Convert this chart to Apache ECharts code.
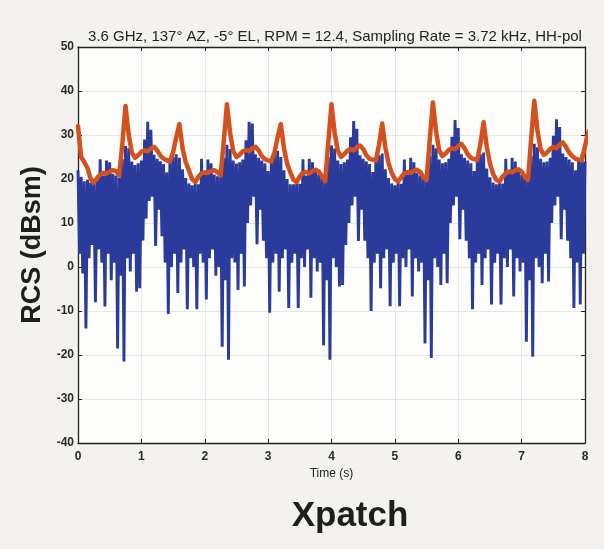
<!DOCTYPE html>
<html><head><meta charset="utf-8">
<script src="https://cdn.jsdelivr.net/npm/echarts@6/dist/echarts.min.js"></script>
<style>html,body{margin:0;padding:0;background:#f3f2ef;}#c{width:604px;height:549px;}</style>
</head><body><div id="c"></div>
<script>
// ---- data ----
const titleText = '3.6 GHz, 137\u00B0 AZ, -5\u00B0 EL, RPM = 12.4, Sampling Rate = 3.72 kHz, HH-pol';
const xTicks = [0,1,2,3,4,5,6,7,8];
const yTicks = [-40,-30,-20,-10,0,10,20,30,40,50];
const sampleStep = 0.05; // seconds between consecutive readings
// orange envelope (dBsm), one reading every 0.05 s from t = 0
const envelope = [
32.0,25.0,23.8,22.5,20.0,19.2,20.2,21.0,21.4,21.2,21.7,22.0,21.8,20.8,28.0,36.6,30.0,26.0,24.8,25.4,
26.2,26.5,26.3,26.9,27.3,26.5,25.3,24.6,24.3,24.0,26.0,29.5,32.5,27.0,23.8,22.0,20.0,19.3,20.5,21.3,
21.5,21.4,21.8,22.0,21.6,20.8,28.5,37.0,30.5,26.3,25.0,25.5,26.3,26.6,26.3,27.0,27.3,26.5,25.2,24.5,
24.2,24.0,26.0,29.5,32.5,27.0,23.5,21.5,19.8,19.3,20.6,21.4,21.6,21.3,21.8,22.1,21.7,20.6,19.5,28.5,
37.0,30.5,26.4,25.0,25.6,26.4,26.8,26.5,27.2,27.6,26.8,25.4,24.6,24.4,24.2,27.8,32.6,27.2,23.6,21.4,
20.0,19.4,20.4,21.3,21.6,21.4,21.9,22.1,21.6,20.4,19.8,28.8,37.4,30.8,26.5,25.2,25.8,26.6,27.0,26.8,
27.5,28.0,27.0,25.6,24.8,24.5,24.3,28.0,32.9,27.3,23.5,21.2,19.8,19.4,20.5,21.3,21.7,21.5,22.0,22.2,
21.7,20.5,19.8,29.0,37.8,31.0,26.8,25.5,26.0,26.8,27.3,27.0,27.8,28.3,27.3,26.0,25.2,24.6,24.4,24.2,
27.5,30.5,31.8,31.5,31.5
];
// blue signal: upper readings at t = k*0.05, lower readings at t = k*0.05 + 0.025
const rcsTop = [
22.0,20.5,19.5,19.8,19.2,19.0,19.6,24.5,20.8,24.2,23.8,21.2,20.8,20.3,24.5,27.5,27.0,24.0,23.2,23.6,
24.2,29.0,33.0,31.2,25.5,24.6,24.0,23.4,21.5,24.0,25.0,25.6,24.8,22.2,20.2,19.0,18.6,19.2,18.8,24.6,
21.0,24.4,23.6,21.0,20.6,20.8,24.8,27.8,26.8,24.2,23.5,23.8,24.4,28.8,33.0,32.6,25.6,24.8,24.2,23.6,
21.8,24.2,25.4,26.4,25.0,22.0,20.0,18.8,18.8,19.2,18.9,24.5,20.8,24.6,23.8,22.0,21.0,20.6,20.8,25.0,
27.6,26.9,24.2,23.4,23.8,24.4,29.5,33.2,31.4,25.4,24.6,24.0,23.4,21.6,24.2,25.4,25.8,22.2,20.2,19.0,
18.6,19.4,18.9,24.4,21.0,24.8,23.8,21.4,20.8,20.5,21.0,25.2,27.8,27.0,24.4,23.6,23.8,24.6,29.6,33.4,
31.6,25.6,24.8,24.2,23.6,21.8,24.4,25.6,26.0,22.4,20.4,19.2,18.8,19.4,19.0,24.6,21.2,24.8,24.0,21.6,
21.0,20.6,21.0,25.2,28.0,27.2,24.6,23.8,24.0,24.8,29.8,33.6,31.8,25.8,25.0,24.4,23.8,22.0,24.6,25.6,
24.0
];
const rcsBottom = [
3,-1.5,-14,2,5,-8,4,1,-9,3,-3,1,-18.5,-2,-21.5,2,-1,3,-5.6,-4.8,
6,11,15,16,4.8,13,7,1,-10.7,0,3,-5.9,1,4,-9.6,2,0,-9.6,3,1,
-7.4,2,4,-2,0,-18.1,-3,-21.1,2,1,-5.2,3,-4.4,10,14,16,5.2,13,6,2,
-10.4,1,3,-5.6,2,4,-9.3,1,3,-9.3,2,0,4,-7,2,-1,1,-17.8,-3,-21.1,
2,0,-4.4,-4.1,5,10,14,16,5.9,13,6,2,-10,1,3,-4.8,2,4,-8.9,1,
3,-8.9,2,0,4,-6.7,2,-1,1,-17.4,-3,-20.7,2,0,-4.1,3,-3.7,10,14,16,
6.3,13,6,2,-9.6,1,3,-4.1,2,4,-8.5,1,3,-8.5,2,0,4,-6.7,2,-1,
1,-17,-3,-20.4,2,0,-3.7,3,-3.3,10,14,16,6.3,13,6,2,-9.3,1,-8.5,3
];
// ---- build series data ----
const envData = envelope.map((v,k)=>[+(k*sampleStep).toFixed(3), v]);
const rcsData = [];
rcsTop.forEach((v,k)=>{
  rcsData.push([+(k*sampleStep).toFixed(3), v]);
  if (k < rcsBottom.length) rcsData.push([+(k*sampleStep+sampleStep/2).toFixed(3), rcsBottom[k]]);
});

const chart = echarts.init(document.getElementById('c'), null, {renderer:'canvas'});
const FF = 'Liberation Sans, Arial, sans-serif';
const lblFont = {fontFamily:FF, fontWeight:'bold', fontSize:12, color:'#2a2a2a'};
const axLine = {show:true, onZero:false, lineStyle:{color:'#222', width:1.3}};
chart.setOption({
  backgroundColor:'#f3f2ef',
  animation:false,
  title:[
    {text:titleText, left:330, top:24, textAlign:'center',
     textStyle:{fontFamily:FF, fontSize:15, fontWeight:'normal', color:'#222'}},
    {text:'Xpatch', left:345, top:494, textAlign:'center',
     textStyle:{fontFamily:FF, fontSize:35, fontWeight:'bold', color:'#1e1e1e'}}
  ],
  grid:{left:78, right:19, top:47, bottom:106, show:true, backgroundColor:'#fdfdfc', borderWidth:0},
  xAxis:[
    {type:'value', min:0, max:8, interval:1, position:'bottom',
     name:'Time (s)', nameLocation:'middle', nameGap:25,
     nameTextStyle:{fontFamily:FF, fontSize:12, color:'#222'},
     axisLine:axLine, axisTick:{inside:true, length:4, lineStyle:{color:'#222'}},
     axisLabel:Object.assign({margin:8, formatter:v=>xTicks.includes(v)?String(v):''}, lblFont),
     splitLine:{show:true, lineStyle:{color:'#e6e6e6', width:1}}},
    {type:'value', min:0, max:8, interval:1, position:'top',
     axisLine:axLine, axisTick:{inside:true, length:4, lineStyle:{color:'#222'}},
     axisLabel:{show:false}, splitLine:{show:false}}
  ],
  yAxis:[
    {type:'value', min:-40, max:50, interval:10, position:'left',
     name:'RCS (dBsm)', nameLocation:'middle', nameGap:22, nameRotate:90,
     nameTextStyle:{fontFamily:FF, fontSize:27, fontWeight:'bold', color:'#1e1e1e'},
     axisLine:axLine, axisTick:{inside:true, length:4, lineStyle:{color:'#222'}},
     axisLabel:Object.assign({margin:4, formatter:v=>yTicks.includes(v)?String(v):''}, lblFont),
     splitLine:{show:true, lineStyle:{color:'#e6e6e6', width:1}}},
    {type:'value', min:-40, max:50, interval:10, position:'right',
     axisLine:axLine, axisTick:{inside:true, length:4, lineStyle:{color:'#222'}},
     axisLabel:{show:false}, splitLine:{show:false}}
  ],
  series:[
    {type:'line', name:'RCS', data:rcsData, showSymbol:false, symbol:'none',
     lineStyle:{color:'#2b3b9b', width:2.9}, z:2},
    {type:'line', name:'Envelope', data:envData, showSymbol:false, symbol:'none',
     lineStyle:{color:'#d4501d', width:4.5, join:'round', cap:'round'}, z:3}
  ]
});
</script></body></html>
